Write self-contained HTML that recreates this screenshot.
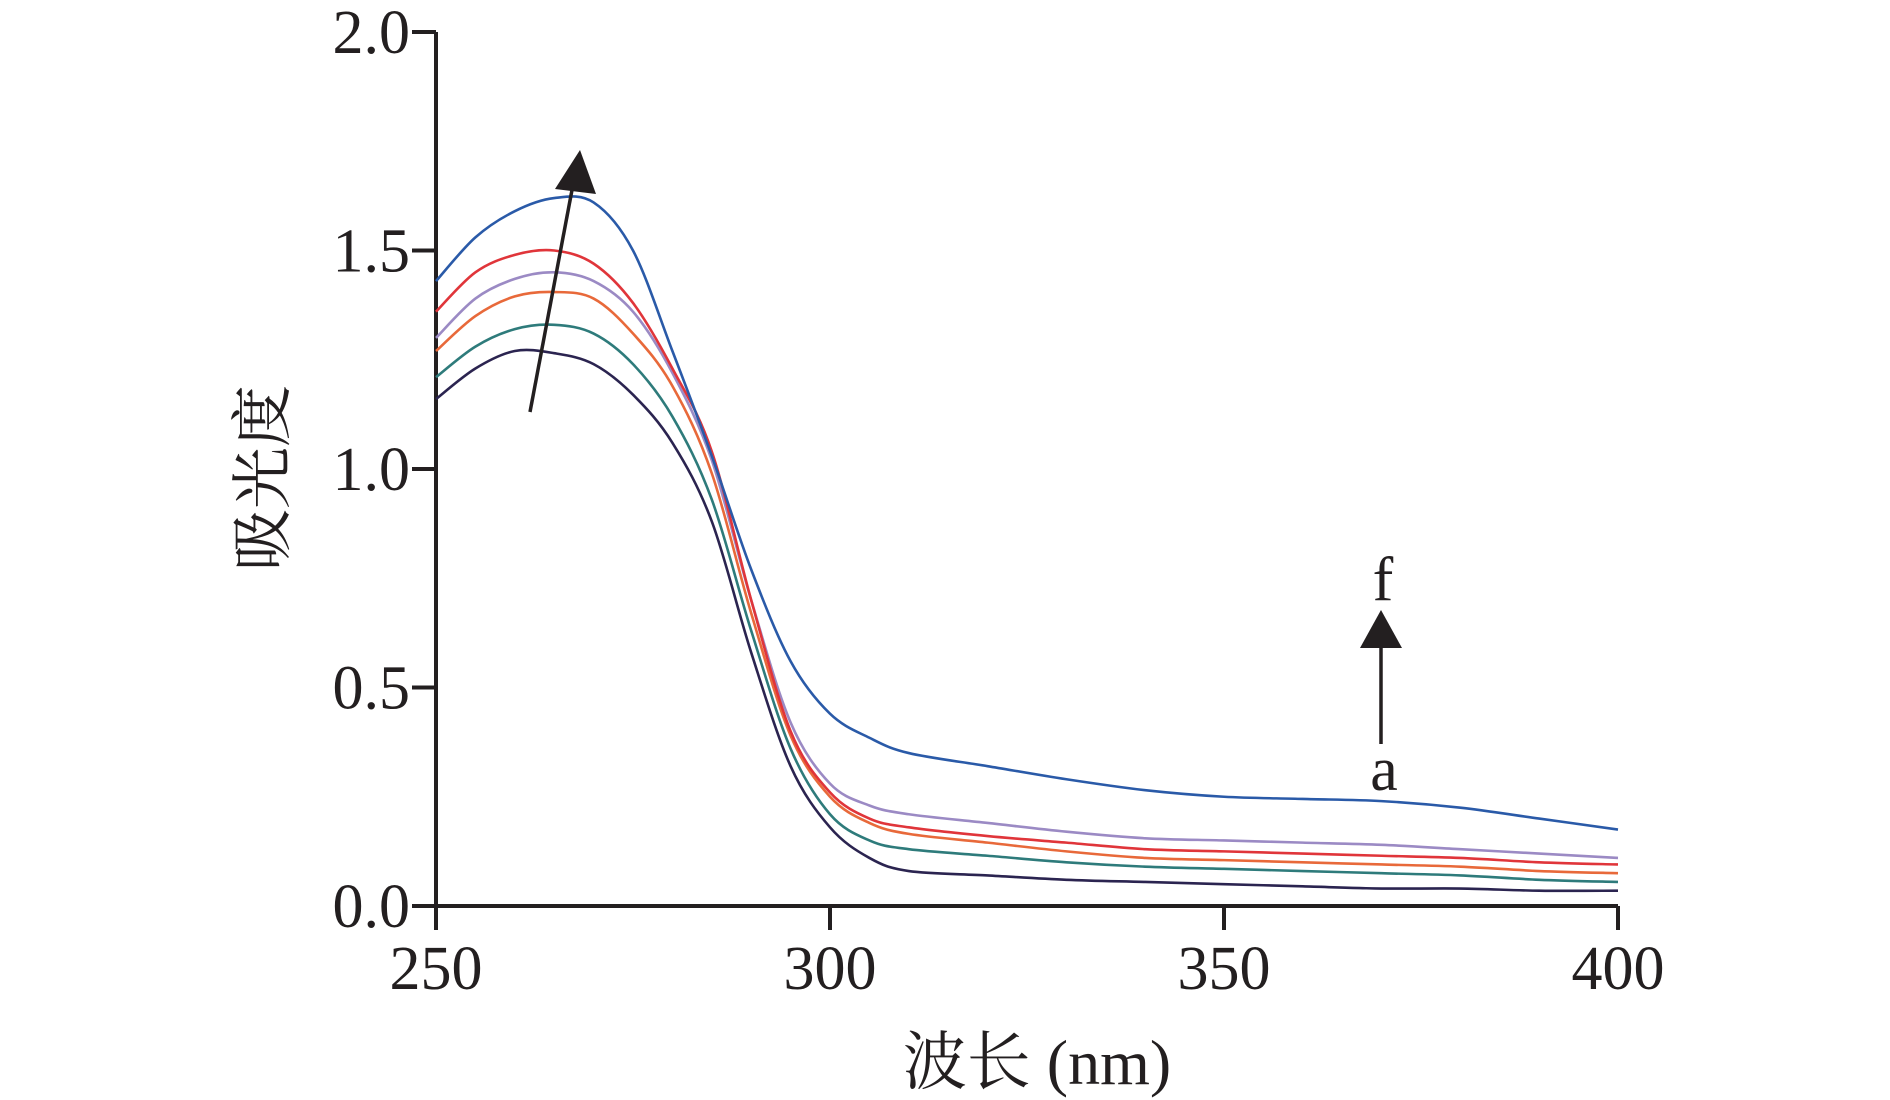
<!DOCTYPE html>
<html><head><meta charset="utf-8"><style>
html,body{margin:0;padding:0;background:#fff;}
svg{display:block;}
text{font-family:"Liberation Serif","Noto Serif CJK SC",serif;fill:#231f20;}
</style></head><body>
<svg id="chart" width="1890" height="1100" xmlns="http://www.w3.org/2000/svg">
<g id="axes"></g>
<g id="series"></g>
<g id="annot"></g>
</svg>
<script>
const wavelengths=[250,255,260,265,270,275,280,285,290,295,300,305,310,320,330,340,350,360,370,380,390,400];
const seriesA=[1.16,1.23,1.27,1.265,1.24,1.17,1.06,0.88,0.58,0.32,0.18,0.11,0.08,0.07,0.06,0.055,0.05,0.045,0.04,0.04,0.035,0.035];
const seriesB=[1.21,1.28,1.32,1.33,1.31,1.24,1.12,0.93,0.63,0.36,0.21,0.15,0.13,0.115,0.1,0.09,0.085,0.08,0.075,0.07,0.06,0.055];
const seriesC=[1.27,1.35,1.395,1.405,1.39,1.31,1.19,0.99,0.67,0.39,0.25,0.19,0.165,0.145,0.125,0.11,0.105,0.1,0.095,0.09,0.08,0.075];
const seriesD=[1.30,1.39,1.435,1.45,1.43,1.36,1.22,1.02,0.70,0.42,0.28,0.23,0.21,0.19,0.17,0.155,0.15,0.145,0.14,0.13,0.12,0.11];
const seriesE=[1.36,1.45,1.49,1.5,1.47,1.38,1.23,1.04,0.70,0.40,0.26,0.2,0.18,0.16,0.145,0.13,0.125,0.12,0.115,0.11,0.1,0.095];
const seriesF=[1.43,1.53,1.59,1.62,1.61,1.5,1.27,1.03,0.77,0.56,0.44,0.385,0.35,0.32,0.29,0.265,0.25,0.245,0.24,0.225,0.2,0.175];
const seriesNames=["a","b","c","d","e","f"];
const xTicks=[250,300,350,400];
const yTicks=[0,0.5,1.0,1.5,2.0];
const yTickLabels=["0.0","0.5","1.0","1.5","2.0"];
const colors=["#2b2450","#2e7b7b","#e8693a","#9b8ac4","#e0353a","#2a5aa8"];
const allSeries=[seriesA,seriesB,seriesC,seriesD,seriesE,seriesF];

const NS="http://www.w3.org/2000/svg";
const X0=436,X1=1618,Y0=906,Y1=32;
const xs=v=>X0+(v-250)/150*(X1-X0);
const ys=v=>Y0-v/2*(Y0-Y1);
function mk(tag,attrs,parent){const e=document.createElementNS(NS,tag);for(const k in attrs)e.setAttribute(k,attrs[k]);parent.appendChild(e);return e;}
const axes=document.getElementById('axes');
let l=mk('line',{x1:X0,y1:Y0,x2:X1,y2:Y0,stroke:'#231f20','stroke-width':4},axes);


l=mk('line',{x1:X0,y1:Y0+2,x2:X0,y2:Y1,stroke:'#231f20','stroke-width':4},axes);


xTicks.forEach(t=>{
  const tk=mk('line',{x1:xs(t),y1:Y0,x2:xs(t),y2:Y0+24,stroke:'#231f20','stroke-width':4},axes);
  
  
  const tx=mk('text',{x:xs(t),y:Y0+83,'font-size':62,'text-anchor':'middle'},axes);
  tx.textContent=t;
  
  
});
yTicks.forEach((t,i)=>{
  const tk=mk('line',{x1:X0-24,y1:ys(t),x2:X0,y2:ys(t),stroke:'#231f20','stroke-width':4},axes);
  
  
  const tx=mk('text',{x:X0-26,y:ys(t)+21,'font-size':62,'text-anchor':'end'},axes);
  tx.textContent=yTickLabels[i];
  
  
});
let t=mk('text',{x:1037,y:1084,'font-size':64,'text-anchor':'middle'},axes);
t.textContent='波长 (nm)';


t=mk('text',{x:0,y:0,'font-size':62,'text-anchor':'middle',transform:'translate(284,478) rotate(-90)'},axes);
t.textContent='吸光度';



function smoothPath(pts){
  let d=`M${pts[0][0]},${pts[0][1]}`;
  for(let i=0;i<pts.length-1;i++){
    const p0=pts[i-1]||pts[i],p1=pts[i],p2=pts[i+1],p3=pts[i+2]||p2;
    const c1=[p1[0]+(p2[0]-p0[0])/6,p1[1]+(p2[1]-p0[1])/6];
    const c2=[p2[0]-(p3[0]-p1[0])/6,p2[1]-(p3[1]-p1[1])/6];
    d+=` C${c1[0]},${c1[1]} ${c2[0]},${c2[1]} ${p2[0]},${p2[1]}`;
  }
  return d;
}
const sg=document.getElementById('series');
allSeries.forEach((s,i)=>{
  const pts=wavelengths.map((w,j)=>[xs(w),ys(s[j])]);
  const p=mk('path',{d:smoothPath(pts),fill:'none',stroke:colors[i],'stroke-width':2.6},sg);
  
  
});
const an=document.getElementById('annot');
let a=mk('line',{x1:530,y1:412,x2:572,y2:190,stroke:'#231f20','stroke-width':3.5},an);


a=mk('polygon',{points:'580,150 555,189 596,194',fill:'#231f20'},an);


a=mk('line',{x1:1381,y1:744,x2:1381,y2:645,stroke:'#231f20','stroke-width':3.5},an);


a=mk('polygon',{points:'1381,610 1360,648 1402,648',fill:'#231f20'},an);


a=mk('text',{x:1383,y:600,'font-size':62,'text-anchor':'middle'},an);
a.textContent='f';


a=mk('text',{x:1384,y:790,'font-size':62,'text-anchor':'middle'},an);
a.textContent='a';


</script>
</body></html>
